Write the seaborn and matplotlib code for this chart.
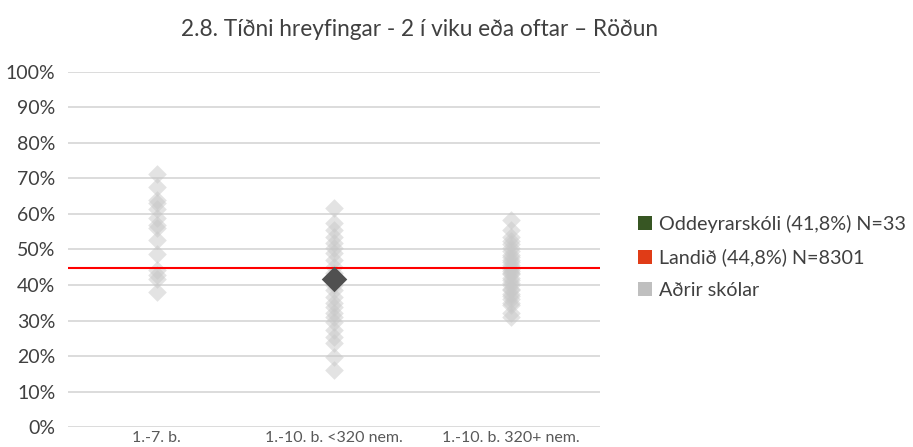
import matplotlib
matplotlib.use("Agg")
import matplotlib.pyplot as plt
import seaborn as sns
import pandas as pd
from matplotlib.lines import Line2D

categories = ["1.-7. b.", "1.-10. b. <320 nem.", "1.-10. b. 320+ nem."]

cat1_values = [71.3, 67.5, 64.0, 63.0, 61.4, 58.9, 56.9, 56.0, 52.7, 48.7, 44.2, 42.8, 41.7, 38.0]
cat2_values = [61.7, 57.5, 55.5, 53.5, 51.8, 49.0, 47.0, 45.0, 38.6, 36.6, 33.8, 32.0,
               29.6, 27.3, 25.4, 23.7, 19.7, 16.0, 50.5, 43.5, 40.0, 35.0, 31.0]
cat3_values = [58.3, 55.5, 53.5, 52.5, 51.5, 50.5, 49.5, 48.5, 48.0, 47.0, 46.5, 45.5,
               45.0, 44.5, 44.0, 43.5, 43.0, 42.0, 41.5, 40.5, 40.0, 39.0, 38.5, 37.5,
               37.0, 36.0, 35.0, 34.5, 32.0, 31.0]

school_category = "1.-10. b. <320 nem."
school_value = 41.8
landid_value = 44.8

legend_labels = ["Oddeyrarskóli (41,8%) N=33", "Landið (44,8%) N=8301", "Aðrir skólar"]
title = "2.8. Tíðni hreyfingar - 2 í viku eða oftar – Röðun"
yticks = [0, 10, 20, 30, 40, 50, 60, 70, 80, 90, 100]

others = pd.DataFrame({
    "cat": [categories[0]] * len(cat1_values) + [categories[1]] * len(cat2_values) + [categories[2]] * len(cat3_values),
    "val": cat1_values + cat2_values + cat3_values,
})
school = pd.DataFrame({"cat": [school_category], "val": [school_value]})

sns.set_theme(style="white")
plt.rcParams["font.family"] = ["Lato", "DejaVu Sans"]

fig = plt.figure(figsize=(9.13, 4.47), dpi=100)
ax = fig.add_axes([0.0745, 0.0447, 0.5825, 0.7943])

for y in yticks:
    ax.axhline(y, color="#d9d9d9", lw=1.3, zorder=0)

sns.stripplot(data=others, x="cat", y="val", order=categories, jitter=False,
              marker="D", size=9.5, color="#c8c8c8", alpha=0.5, linewidth=0, ax=ax, zorder=2)
ax.axhline(landid_value, color="#ff0000", lw=1.5, zorder=3)
sns.stripplot(data=school, x="cat", y="val", order=categories, jitter=False,
              marker="D", size=13, color="#505050", linewidth=0, ax=ax, zorder=4)

ax.set_xlim(-0.5, 2.5)
ax.set_ylim(0, 100)
ax.set_yticks(yticks)
ax.set_yticklabels([f"{v}%" for v in yticks], fontsize=14, color="#404040")
ax.tick_params(axis="y", length=0, pad=9)
ax.tick_params(axis="x", length=0, pad=3, labelsize=11.5, labelcolor="#595959")
ax.set_xlabel("")
ax.set_ylabel("")
for s in ax.spines.values():
    s.set_visible(False)

handles = [
    Line2D([0], [0], marker="s", linestyle="", markersize=10, markerfacecolor="#375623", markeredgewidth=0),
    Line2D([0], [0], marker="s", linestyle="", markersize=10, markerfacecolor="#e03c17", markeredgewidth=0),
    Line2D([0], [0], marker="s", linestyle="", markersize=10, markerfacecolor="#bfbfbf", markeredgewidth=0),
]
leg = fig.legend(handles, legend_labels, loc="center left", bbox_to_anchor=(0.69, 0.425),
                 frameon=False, fontsize=14.2, handlelength=0.7, handletextpad=0.35,
                 labelspacing=0.78, borderaxespad=0)
for t in leg.get_texts():
    t.set_color("#404040")

fig.text(0.46, 0.935, title, ha="center", va="center", fontsize=16.3, color="#404040")

fig.savefig("out.png", dpi=100)
